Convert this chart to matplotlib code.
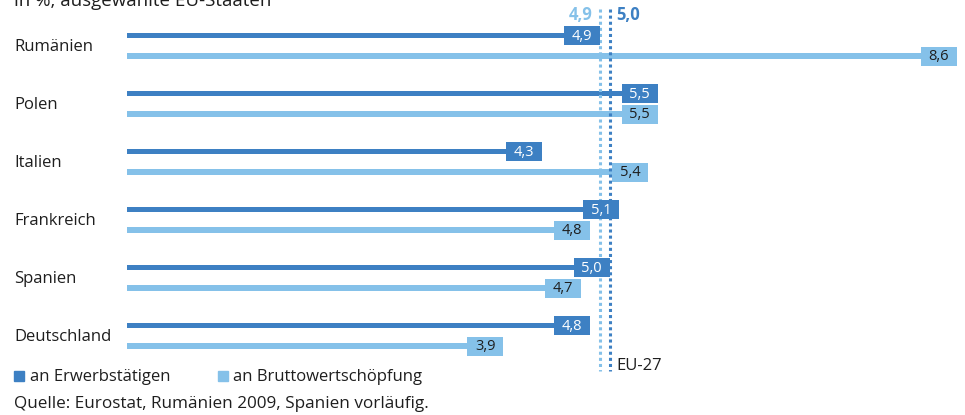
import matplotlib.pyplot as plt
from matplotlib.patches import Rectangle

plt.rcParams['font.family'] = ['Open Sans', 'DejaVu Sans']

# data
laender = ['Rumänien', 'Polen', 'Italien', 'Frankreich', 'Spanien', 'Deutschland']
erwerbstaetige = [4.9, 5.5, 4.3, 5.1, 5.0, 4.8]
bws = [8.6, 5.5, 5.4, 4.8, 4.7, 3.9]
eu27_bws = 4.9
eu27_erw = 5.0

dunkel = '#3d80c3'
hell = '#85c1e9'
text_c = '#1e1e1e'

W, H = 965, 415
fig = plt.figure(figsize=(W / 100, H / 100), dpi=100)
ax = fig.add_axes([0, 0, 1, 1])
px = 96.5          # pixels per percentage point
x0 = 127           # pixel position of zero
ax.set_xlim(-x0 / px, (W - x0) / px)
ax.set_ylim(H, 0)
ax.axis('off')

def fmt(v):
    return f'{v:.1f}'.replace('.', ',')

box_w = 36 / px
box_h = 19
y_first = 35.5
step = 58
off = 20.7

for i, land in enumerate(laender):
    yd = y_first + i * step
    yl = yd + off
    ax.barh(yd, erwerbstaetige[i], height=5, color=dunkel)
    ax.barh(yl, bws[i], height=5.5, color=hell)
    for v, y, c, tc in [(erwerbstaetige[i], yd, dunkel, 'white'), (bws[i], yl, hell, text_c)]:
        ax.add_patch(Rectangle((v - box_w, y - box_h / 2), box_w, box_h, color=c, lw=0, zorder=3))
        ax.text(v - box_w / 2, y + 0.5, fmt(v), ha='center', va='center',
                color=tc, fontsize=10.5, zorder=4)
    ax.text((14 - x0) / px, (yd + yl) / 2 + 1, land, fontsize=12, color=text_c,
            ha='left', va='center')

# EU-27 reference lines
ax.plot([eu27_bws, eu27_bws], [9, 371], color=hell, lw=2.2, linestyle=(0, (1, 1)))
ax.plot([eu27_erw, eu27_erw], [9, 371], color=dunkel, lw=2.2, linestyle=(0, (1, 1)))
ax.text(eu27_bws - 7 / px, 15, fmt(eu27_bws), ha='right', va='center',
        color=hell, fontsize=12, fontweight='bold')
ax.text(eu27_erw + 7 / px, 15, fmt(eu27_erw), ha='left', va='center',
        color=dunkel, fontsize=12, fontweight='bold')
ax.text(eu27_erw + 7 / px, 370, 'EU-27', ha='left', va='baseline', color=text_c, fontsize=12)

fig.text(14 / W, 1 - 6 / H, 'in %, ausgewählte EU-Staaten', ha='left', va='baseline',
         fontsize=13.5, color=text_c)

# legend
fig.patches.append(Rectangle((14 / W, 1 - 381 / H), 10 / W, 10 / H, color=dunkel,
                             transform=fig.transFigure, figure=fig))
fig.text(30 / W, 1 - 381 / H, 'an Erwerbstätigen', ha='left', va='baseline', fontsize=12, color=text_c)
fig.patches.append(Rectangle((218 / W, 1 - 381 / H), 10 / W, 10 / H, color=hell,
                             transform=fig.transFigure, figure=fig))
fig.text(233 / W, 1 - 381 / H, 'an Bruttowertschöpfung', ha='left', va='baseline', fontsize=12, color=text_c)

fig.text(14 / W, 1 - 408 / H, 'Quelle: Eurostat, Rumänien 2009, Spanien vorläufig.', ha='left',
         va='baseline', fontsize=12.3, color=text_c)

fig.savefig('out.png', dpi=100)
